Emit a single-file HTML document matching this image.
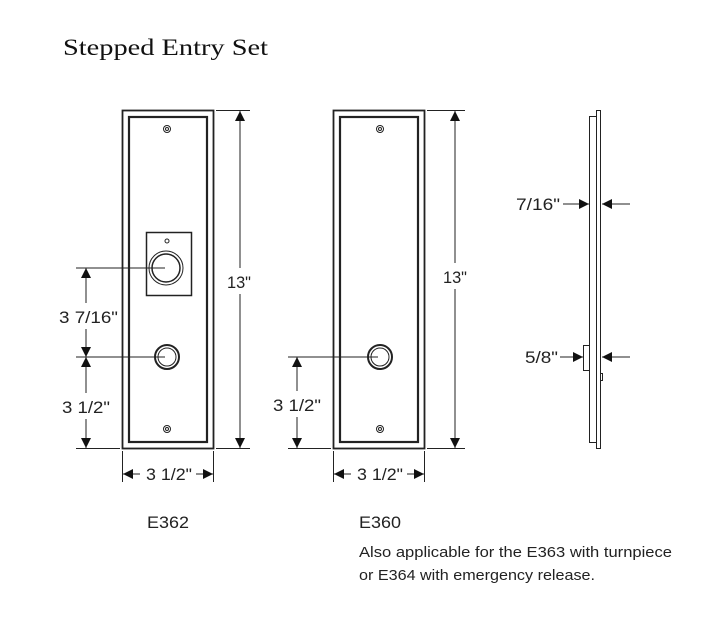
<!DOCTYPE html>
<html><head><style>
body{margin:0;background:#fff;}
svg{display:block}
text{font-family:"Liberation Sans",sans-serif;fill:#222}
</style></head><body>
<svg width="706" height="624" viewBox="0 0 706 624" xmlns="http://www.w3.org/2000/svg">
<defs>
<marker id="a" viewBox="0 0 10 10" refX="10" refY="5" markerWidth="10" markerHeight="10" markerUnits="userSpaceOnUse" orient="auto-start-reverse"><path d="M0,0L10,5L0,10z" fill="#111"/></marker>
</defs>
<text x="63" y="55" style="font-family:'Liberation Serif',serif;font-size:23px;fill:#111" textLength="205" lengthAdjust="spacingAndGlyphs">Stepped Entry Set</text>
<g stroke="#222" fill="none">
<rect x="122.5" y="110.5" width="91" height="338" stroke-width="1.8"/>
<rect x="129" y="117" width="78" height="325" stroke-width="2.2"/>
<circle cx="167" cy="129" r="3.5"/><circle cx="167" cy="129" r="1.5"/>
<circle cx="167" cy="429" r="3.5"/><circle cx="167" cy="429" r="1.5"/>
<rect x="146.5" y="232.5" width="45" height="63" stroke-width="1.5"/>
<circle cx="167" cy="241" r="2"/>
<circle cx="166" cy="268" r="17"/><circle cx="166" cy="268" r="14" stroke-width="1.5"/>
<circle cx="167" cy="357" r="12" stroke-width="2"/><circle cx="167" cy="357" r="9"/>
<line x1="76" y1="268" x2="165" y2="268"/>
<line x1="76" y1="357" x2="165" y2="357"/>
<line x1="76" y1="448.5" x2="120" y2="448.5"/>
<line x1="86" y1="268" x2="86" y2="357" marker-start="url(#a)" marker-end="url(#a)"/>
<line x1="86" y1="357" x2="86" y2="448" marker-start="url(#a)" marker-end="url(#a)"/>
<line x1="216" y1="110.5" x2="250" y2="110.5"/>
<line x1="216" y1="448.5" x2="250" y2="448.5"/>
<line x1="240" y1="111" x2="240" y2="448" marker-start="url(#a)" marker-end="url(#a)"/>
<line x1="122.5" y1="451" x2="122.5" y2="482"/>
<line x1="213.5" y1="451" x2="213.5" y2="482"/>
<line x1="123" y1="474" x2="140" y2="474" marker-start="url(#a)"/>
<line x1="196" y1="474" x2="213" y2="474" marker-end="url(#a)"/>
<rect x="333.5" y="110.5" width="91" height="338" stroke-width="1.8"/>
<rect x="340" y="117" width="78" height="325" stroke-width="2.2"/>
<circle cx="380" cy="129" r="3.5"/><circle cx="380" cy="129" r="1.5"/>
<circle cx="380" cy="429" r="3.5"/><circle cx="380" cy="429" r="1.5"/>
<circle cx="380" cy="357" r="12" stroke-width="2"/><circle cx="380" cy="357" r="9"/>
<line x1="288" y1="357" x2="378" y2="357"/>
<line x1="288" y1="448.5" x2="331" y2="448.5"/>
<line x1="297" y1="357" x2="297" y2="448" marker-start="url(#a)" marker-end="url(#a)"/>
<line x1="427" y1="110.5" x2="465" y2="110.5"/>
<line x1="427" y1="448.5" x2="465" y2="448.5"/>
<line x1="455" y1="111" x2="455" y2="448" marker-start="url(#a)" marker-end="url(#a)"/>
<line x1="333.5" y1="451" x2="333.5" y2="482"/>
<line x1="424.5" y1="451" x2="424.5" y2="482"/>
<line x1="334" y1="474" x2="351" y2="474" marker-start="url(#a)"/>
<line x1="407" y1="474" x2="424" y2="474" marker-end="url(#a)"/>
<rect x="596.5" y="110.5" width="4" height="338"/>
<rect x="589.5" y="116.5" width="7" height="326"/>
<rect x="583.5" y="345.5" width="6" height="25"/>
<rect x="600.5" y="373.5" width="2" height="7"/>
<line x1="563" y1="204" x2="589" y2="204" marker-end="url(#a)"/>
<line x1="630" y1="204" x2="602" y2="204" marker-end="url(#a)"/>
<line x1="560" y1="357" x2="583" y2="357" marker-end="url(#a)"/>
<line x1="630" y1="357" x2="602" y2="357" marker-end="url(#a)"/>
</g>
<g fill="#fff">
<rect x="57" y="303" width="64" height="26"/>
<rect x="60" y="393" width="52" height="26"/>
<rect x="225" y="268" width="30" height="26"/>
<rect x="442" y="263" width="30" height="26"/>
<rect x="271" y="391" width="52" height="26"/>
</g>
<g style="font-size:17px">
<text x="59" y="323" textLength="59" lengthAdjust="spacingAndGlyphs">3 7/16"</text>
<text x="62" y="413" textLength="48" lengthAdjust="spacingAndGlyphs">3 1/2"</text>
<text x="227" y="288" textLength="24" lengthAdjust="spacingAndGlyphs">13"</text>
<text x="146" y="480" textLength="46" lengthAdjust="spacingAndGlyphs">3 1/2"</text>
<text x="273" y="411" textLength="48" lengthAdjust="spacingAndGlyphs">3 1/2"</text>
<text x="443" y="283" textLength="24" lengthAdjust="spacingAndGlyphs">13"</text>
<text x="357" y="480" textLength="46" lengthAdjust="spacingAndGlyphs">3 1/2"</text>
<text x="516" y="210" textLength="44" lengthAdjust="spacingAndGlyphs">7/16"</text>
<text x="525" y="363" textLength="33" lengthAdjust="spacingAndGlyphs">5/8"</text>
<text x="147" y="528" textLength="42" lengthAdjust="spacingAndGlyphs">E362</text>
<text x="359" y="528" textLength="42" lengthAdjust="spacingAndGlyphs">E360</text>
</g>
<text x="359" y="557" style="font-size:15px" textLength="313" lengthAdjust="spacingAndGlyphs">Also applicable for the E363 with turnpiece</text>
<text x="359" y="580" style="font-size:15px" textLength="236" lengthAdjust="spacingAndGlyphs">or E364 with emergency release.</text>
</svg>
</body></html>
